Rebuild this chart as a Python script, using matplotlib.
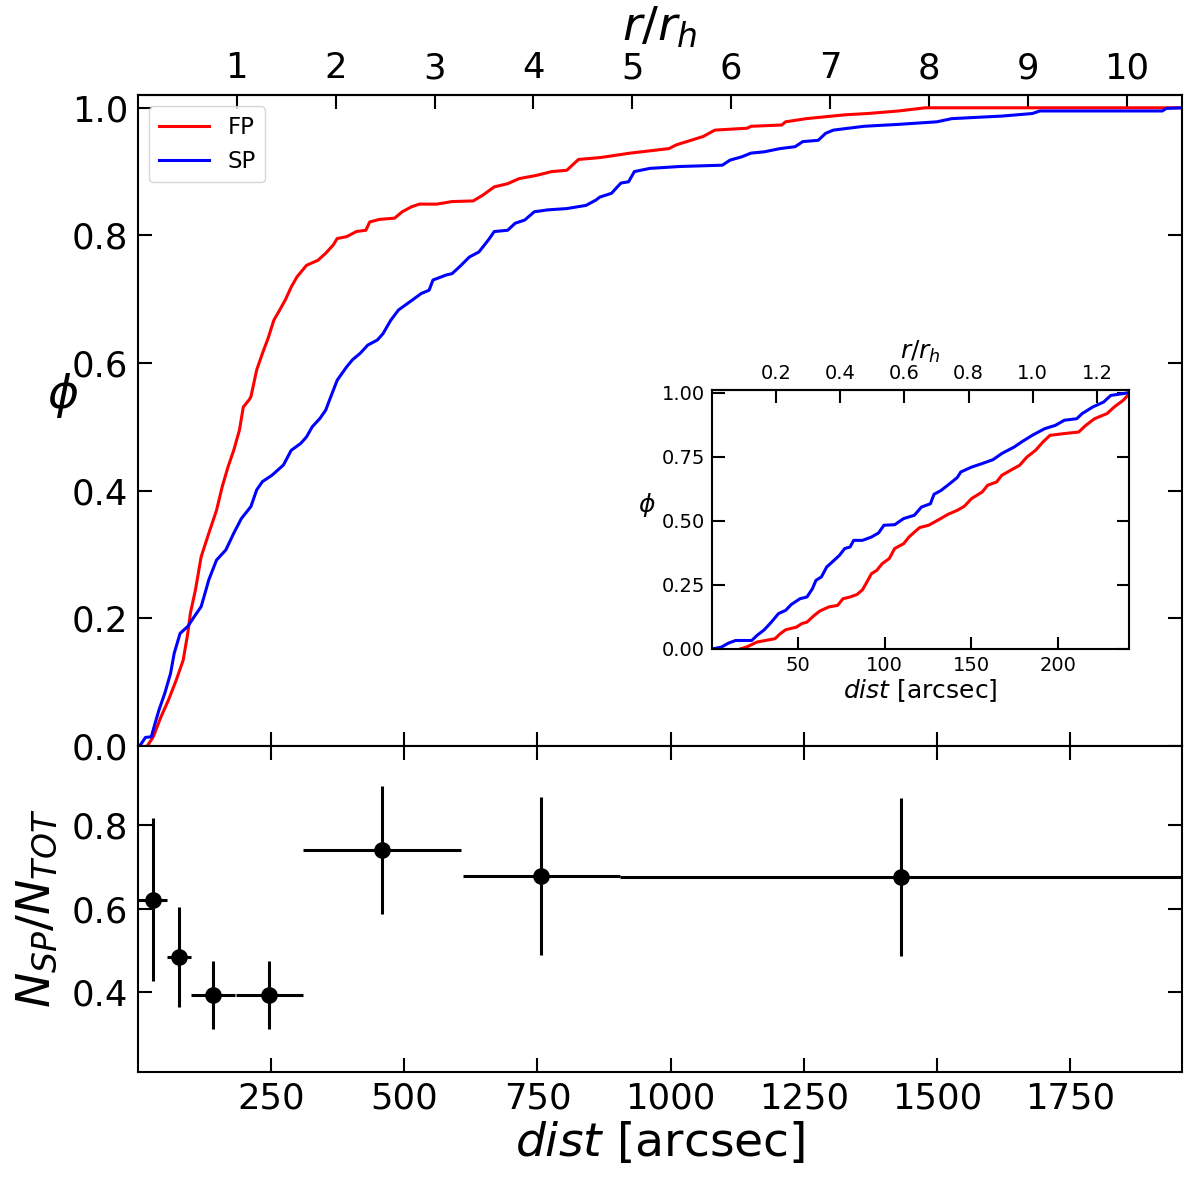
import matplotlib
matplotlib.use("Agg")
import matplotlib.pyplot as plt
from matplotlib.ticker import FixedLocator, FormatStrFormatter

rh = 185.6  # half-light radius [arcsec]

# cumulative radial distribution, whole field
fp_dist = [17.8, 28.7, 43, 57.4, 71.8, 84.8, 93.4, 98.4, 107.8, 118.5, 132.9, 147.4,
           158.1, 169, 179.7, 190.5, 197.7, 208.4, 212, 222.8, 233.6, 244.4, 255, 266,
           276.7, 287.6, 298.5, 316.3, 337.9, 352.4, 366.6, 373.9, 391.8, 409.8, 427.8,
           435, 453, 481.8, 496, 514, 528.4, 561, 589.6, 629.3, 647.3, 668.8, 694,
           715.6, 748, 776.6, 805, 827, 868, 924.7, 996.6, 1011, 1061, 1083, 1144,
           1151, 1208.6, 1215.7, 1255, 1327, 1370, 1427.6, 1478, 1960]
fp_phi = [0.0, 0.014, 0.045, 0.072, 0.103, 0.134, 0.176, 0.208, 0.244, 0.296, 0.333, 0.369,
          0.406, 0.437, 0.463, 0.495, 0.531, 0.542, 0.547, 0.589, 0.615, 0.639, 0.667, 0.683,
          0.699, 0.719, 0.735, 0.753, 0.761, 0.772, 0.785, 0.795, 0.798, 0.806, 0.808,
          0.821, 0.825, 0.827, 0.837, 0.845, 0.849, 0.849, 0.853, 0.854, 0.863, 0.876, 0.881,
          0.889, 0.894, 0.900, 0.902, 0.919, 0.922, 0.929, 0.936, 0.942, 0.955, 0.965, 0.968,
          0.971, 0.973, 0.978, 0.983, 0.989, 0.991, 0.995, 1.0, 1.0]

sp_dist = [3.5, 14, 25, 32, 39.4, 50.2, 61, 68, 79, 93.4, 107.8, 118.5, 125.8, 132.9,
           147.4, 165, 179.7, 194, 212, 222.8, 233.6, 251.6, 273, 287.6, 305.6, 316.3,
           327.2, 341.5, 352.4, 361, 374, 391.8, 402.7, 417, 431.4, 449.4, 460, 474.6,
           489, 510.6, 532, 546.5, 553.8, 579, 589.6, 604, 622, 640, 658, 668.8, 694,
           708, 726, 744, 769.5, 805, 841, 859, 867, 889, 906.6, 921, 931.9, 960.8,
           1018, 1097, 1111.5, 1133, 1151, 1176, 1205, 1233.7, 1248, 1277, 1291, 1305.5,
           1334, 1363, 1427.6, 1499.6, 1528, 1621.6, 1679, 1693, 1923, 1930.6, 1960]
sp_phi = [0.0, 0.013, 0.014, 0.035, 0.056, 0.082, 0.113, 0.145, 0.176, 0.187, 0.205, 0.218,
          0.239, 0.260, 0.291, 0.307, 0.333, 0.356, 0.375, 0.401, 0.414, 0.424, 0.440, 0.463,
          0.474, 0.484, 0.500, 0.513, 0.526, 0.545, 0.573, 0.594, 0.605, 0.615, 0.628, 0.636,
          0.646, 0.667, 0.683, 0.696, 0.709, 0.714, 0.730, 0.738, 0.740, 0.751, 0.766, 0.774,
          0.793, 0.806, 0.808, 0.819, 0.824, 0.837, 0.840, 0.842, 0.847, 0.855, 0.860, 0.866,
          0.882, 0.884, 0.900, 0.905, 0.908, 0.910, 0.918, 0.923, 0.929, 0.931, 0.936, 0.939,
          0.947, 0.949, 0.960, 0.965, 0.968, 0.971, 0.974, 0.978, 0.983, 0.987, 0.991, 0.995,
          0.995, 0.999, 1.0]

# cumulative distribution inside 1.3 r_h (inset)
fp_in_dist = [16.8, 19.9, 26.1, 36.5, 39.6, 42.7, 48.8, 52, 55, 59.2, 62.4, 67.6, 72.7,
              75.8, 80, 84, 87.1, 90.2, 92.3, 95.4, 98.5, 102.6, 105.7, 110.9, 114, 117.1,
              120.2, 125.4, 130.5, 136.7, 141.9, 146, 150.2, 156.4, 159.5, 164.7, 167.7,
              172.9, 178, 182.2, 187.3, 191.5, 195.6, 203.9, 212.2, 216.3, 221.4, 228.6,
              232.8, 238, 240.7, 241.3]
fp_in_phi = [0.0, 0.006, 0.026, 0.039, 0.059, 0.074, 0.084, 0.098, 0.104, 0.130, 0.147, 0.163,
             0.169, 0.195, 0.202, 0.212, 0.230, 0.267, 0.293, 0.306, 0.332, 0.352, 0.391, 0.410,
             0.436, 0.455, 0.473, 0.482, 0.501, 0.525, 0.540, 0.556, 0.586, 0.612, 0.638, 0.651,
             0.677, 0.697, 0.716, 0.748, 0.775, 0.807, 0.833, 0.840, 0.846, 0.872, 0.898, 0.918,
             0.944, 0.970, 0.990, 1.0]

sp_in_dist = [0.9, 5.4, 9.6, 13.7, 23, 26.1, 30.3, 34.4, 38.5, 42.7, 45.8, 50.9, 55, 58.1,
              60.2, 63.3, 66.4, 69.5, 73.7, 76.8, 79.9, 82, 87.1, 92.3, 96.4, 99.5, 105.7,
              110.9, 117.1, 121.2, 126.4, 128.5, 132.6, 137.7, 141.9, 144, 150.2, 156.4,
              162.6, 167.7, 175, 179.1, 185.3, 192.5, 198.7, 203.9, 211.1, 214.2, 220.4,
              226.6, 230.8, 238, 241.3]
sp_in_phi = [0.0, 0.006, 0.022, 0.032, 0.032, 0.052, 0.074, 0.104, 0.137, 0.150, 0.172, 0.195,
             0.202, 0.234, 0.267, 0.280, 0.319, 0.338, 0.364, 0.391, 0.397, 0.423, 0.423, 0.436,
             0.452, 0.482, 0.484, 0.508, 0.521, 0.553, 0.566, 0.603, 0.618, 0.645, 0.668, 0.690,
             0.709, 0.723, 0.738, 0.762, 0.788, 0.807, 0.833, 0.859, 0.872, 0.892, 0.898, 0.918,
             0.944, 0.963, 0.989, 0.996, 1.0]

# SP fraction in radial bins
bin_center = [27.6, 77.5, 141.4, 246.5, 458, 757.5, 1432]
bin_halfwidth = [27.4, 22.5, 41.3, 63, 149, 148, 527]
ratio = [0.621, 0.485, 0.394, 0.393, 0.740, 0.678, 0.675]
ratio_err = [0.195, 0.12, 0.082, 0.082, 0.153, 0.189, 0.189]

fig = plt.figure(figsize=(12, 11.79), dpi=100)
ax = fig.add_axes([0.115, 0.3675, 0.87, 0.5519])
ax2 = fig.add_axes([0.115, 0.091, 0.87, 0.2765], sharex=ax)

tick_kw = dict(direction='in', length=10, width=1.5, labelsize=25.5, pad=7)

# top panel
ax.plot(fp_dist, fp_phi, color='red', lw=2.2, label='FP')
ax.plot(sp_dist, sp_phi, color='blue', lw=2.2, label='SP')
ax.set_xlim(0, 1960)
ax.set_ylim(0, 1.02)
ax.yaxis.set_major_locator(FixedLocator([0, 0.2, 0.4, 0.6, 0.8, 1.0]))
ax.yaxis.set_major_formatter(FormatStrFormatter('%.1f'))
ax.tick_params(**tick_kw, top=False, right=True, labelbottom=False)
ax.set_ylabel(r'$\phi$', fontsize=34, rotation=0)
ax.yaxis.set_label_coords(-0.072, 0.5)
ax.legend(loc='upper left', fontsize=16.5, handlelength=2.2)
for s in ax.spines.values():
    s.set_linewidth(1.5)

top = ax.secondary_xaxis('top', functions=(lambda d: d / rh, lambda r: r * rh))
top.set_xticks(range(1, 11))
top.tick_params(**tick_kw)
top.set_xlabel(r'$r/r_h$', fontsize=34, labelpad=8)
top.spines['top'].set_linewidth(1.5)

# bottom panel
ax2.errorbar(bin_center, ratio, xerr=bin_halfwidth, yerr=ratio_err, fmt='o',
             color='black', ms=11, elinewidth=2.2, capsize=0)
ax2.set_ylim(0.21, 0.99)
ax2.yaxis.set_major_locator(FixedLocator([0.4, 0.6, 0.8]))
ax2.yaxis.set_major_formatter(FormatStrFormatter('%.1f'))
ax2.xaxis.set_major_locator(FixedLocator([250, 500, 750, 1000, 1250, 1500, 1750]))
ax2.tick_params(**tick_kw, top=True, right=True)
ax2.set_xlabel(r'$dist$ [arcsec]', fontsize=34, labelpad=3)
ax2.set_ylabel(r'$N_{SP}/N_{TOT}$', fontsize=34)
ax2.yaxis.set_label_coords(-0.075, 0.5)
for s in ax2.spines.values():
    s.set_linewidth(1.5)

# inset
axi = fig.add_axes([0.5933, 0.4498, 0.3475, 0.2194])
axi.plot(fp_in_dist, fp_in_phi, color='red', lw=2.2)
axi.plot(sp_in_dist, sp_in_phi, color='blue', lw=2.2)
axi.set_xlim(0, 1.3 * rh)
axi.set_ylim(0, 1.01)
axi.xaxis.set_major_locator(FixedLocator([50, 100, 150, 200]))
axi.yaxis.set_major_locator(FixedLocator([0, 0.25, 0.5, 0.75, 1.0]))
axi.yaxis.set_major_formatter(FormatStrFormatter('%.2f'))
in_kw = dict(direction='in', length=9, width=1.5, labelsize=14, pad=5)
axi.tick_params(**in_kw, top=False, right=True)
axi.set_xlabel(r'$dist$ [arcsec]', fontsize=18, labelpad=2)
axi.set_ylabel(r'$\phi$', fontsize=18, rotation=0)
axi.yaxis.set_label_coords(-0.155, 0.5)
for s in axi.spines.values():
    s.set_linewidth(1.5)

topi = axi.secondary_xaxis('top', functions=(lambda d: d / rh, lambda r: r * rh))
topi.set_xticks([0.2, 0.4, 0.6, 0.8, 1.0, 1.2])
topi.xaxis.set_major_formatter(FormatStrFormatter('%.1f'))
topi.tick_params(**in_kw)
topi.set_xlabel(r'$r/r_h$', fontsize=18, labelpad=4)
topi.spines['top'].set_linewidth(1.5)

fig.savefig('out.png', dpi=100)
